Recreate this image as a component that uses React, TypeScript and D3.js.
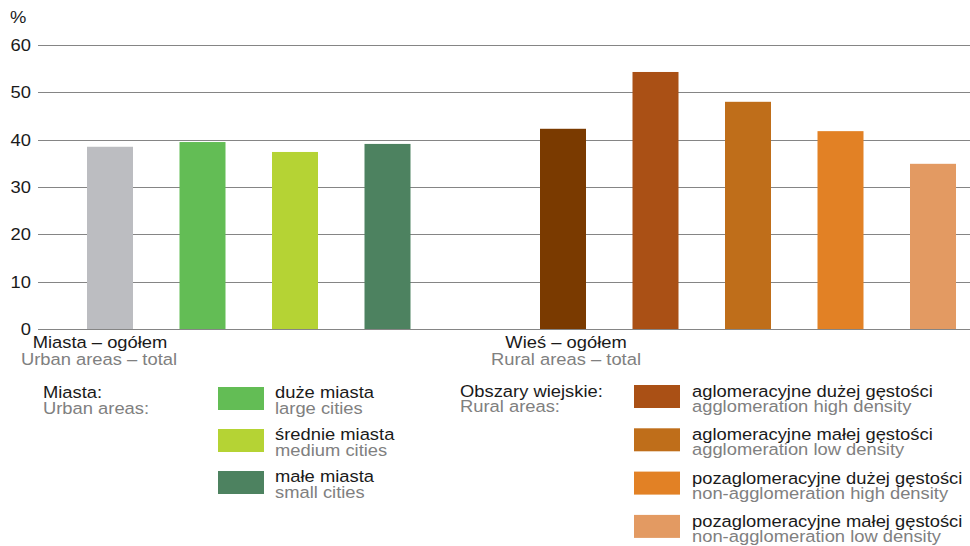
import React from "react";
import * as d3 from "d3";

const groups = ["urban", "rural"];
const urbanCategories = ["Miasta – ogółem", "duże miasta", "średnie miasta", "małe miasta"];
const urbanValues = [38.5, 39.5, 37.4, 39.1];
const urbanColors = ["#bcbdc1", "#63bd55", "#b5d334", "#4d8260"];
const ruralCategories = [
  "Wieś – ogółem",
  "aglomeracyjne dużej gęstości",
  "aglomeracyjne małej gęstości",
  "pozaglomeracyjne dużej gęstości",
  "pozaglomeracyjne małej gęstości",
];
const ruralValues = [42.3, 54.3, 48.0, 41.8, 34.9];
const ruralColors = ["#7a3a00", "#aa5015", "#bf6e1a", "#e28125", "#e39a62"];
const yTicks = [0, 10, 20, 30, 40, 50, 60];

const urbanLegend = [
  { pl: "duże miasta", en: "large cities", color: "#63bd55" },
  { pl: "średnie miasta", en: "medium cities", color: "#b5d334" },
  { pl: "małe miasta", en: "small cities", color: "#4d8260" },
];
const ruralLegend = [
  { pl: "aglomeracyjne dużej gęstości", en: "agglomeration high density", color: "#aa5015" },
  { pl: "aglomeracyjne małej gęstości", en: "agglomeration low density", color: "#bf6e1a" },
  { pl: "pozaglomeracyjne dużej gęstości", en: "non-agglomeration high density", color: "#e28125" },
  { pl: "pozaglomeracyjne małej gęstości", en: "non-agglomeration low density", color: "#e39a62" },
];

const FONT = "'Liberation Sans', Arial, Helvetica, sans-serif";
const BLACK = "#1a1a1a";
const GREY = "#808080";
const SX = 1.08;

function T(props: { x: number; y: number; anchor?: string; size?: number; fill?: string; dy?: string; children: React.ReactNode }) {
  const { x, y, anchor = "start", size = 17, fill = BLACK, dy, children } = props;
  return (
    <text
      transform={`translate(${x},${y}) scale(${SX},1)`}
      textAnchor={anchor}
      fontSize={size}
      fill={fill}
      dy={dy}
    >
      {children}
    </text>
  );
}

export default function App() {
  const W = 970, H = 546;
  const y = d3.scaleLinear().domain([0, 60]).range([329, 45]);
  const gx = d3.scaleBand<string>().domain(groups).range([63.75, 63.75 + 2 * 453]);
  const inner = d3
    .scaleBand<string>()
    .domain(["0", "1", "2", "3", "4"])
    .range([0, 92.5 * 5])
    .paddingInner(0.5027)
    .paddingOuter(0.25135);

  const series = [
    { g: "urban", cats: urbanCategories, vals: urbanValues, cols: urbanColors },
    { g: "rural", cats: ruralCategories, vals: ruralValues, cols: ruralColors },
  ];

  return (
    <svg
      width={W}
      height={H}
      style={{ position: "absolute", left: 0, top: 0, background: "#fff" }}
      fontFamily={FONT}
    >
      <T x={10} y={23}>%</T>
      {yTicks.map((t) => (
        <g key={t}>
          <line x1={38} x2={970} y1={Math.round(y(t)) + 0.5} y2={Math.round(y(t)) + 0.5} stroke="#858585" strokeWidth={1.2} />
          <T x={31} y={y(t)} dy="0.35em" anchor="end">{t}</T>
        </g>
      ))}
      {series.map((s) =>
        s.vals.map((v, i) => (
          <rect
            key={s.g + i}
            x={(gx(s.g) as number) + (inner(i + "") as number)}
            y={y(v)}
            width={inner.bandwidth()}
            height={y(0) - y(v)}
            fill={s.cols[i]}
          >
            <title>{s.cats[i]}</title>
          </rect>
        ))
      )}
      <T x={100} y={348} anchor="middle">Miasta – ogółem</T>
      <T x={99} y={365} anchor="middle" fill={GREY}>Urban areas – total</T>
      <T x={566} y={348} anchor="middle">Wieś – ogółem</T>
      <T x={566} y={365} anchor="middle" fill={GREY}>Rural areas – total</T>

      <T x={43} y={398}>Miasta:</T>
      <T x={43} y={414} fill={GREY}>Urban areas:</T>
      {urbanLegend.map((d, i) => (
        <g key={d.pl} transform={`translate(0, ${i * 42})`}>
          <rect x={218} y={387} width={46} height={23} fill={d.color} />
          <T x={275} y={398}>{d.pl}</T>
          <T x={275} y={414} fill={GREY}>{d.en}</T>
        </g>
      ))}

      <T x={460} y={397}>Obszary wiejskie:</T>
      <T x={460} y={412} fill={GREY}>Rural areas:</T>
      {ruralLegend.map((d, i) => (
        <g key={d.pl} transform={`translate(0, ${i * 43.3})`}>
          <rect x={634} y={385} width={46} height={23} fill={d.color} />
          <T x={692} y={397}>{d.pl}</T>
          <T x={692} y={412} fill={GREY}>{d.en}</T>
        </g>
      ))}
    </svg>
  );
}
